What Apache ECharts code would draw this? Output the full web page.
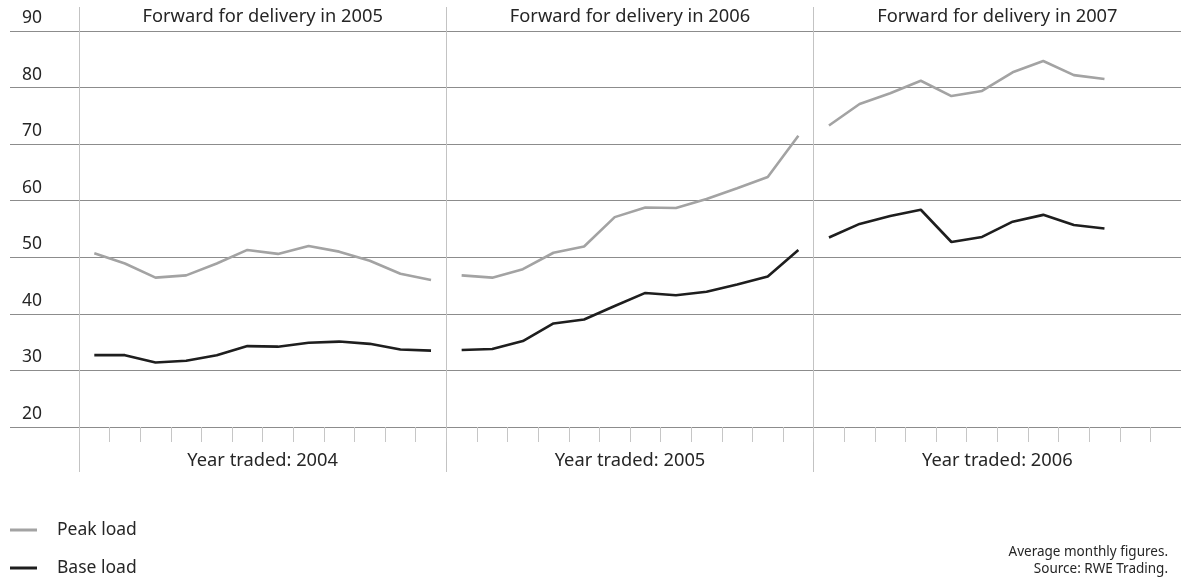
<!DOCTYPE html>
<html>
<head>
<meta charset="utf-8">
<style>
html,body{margin:0;padding:0;background:#fff;}
#chart{width:1181px;height:579px;}
</style>
<script src="https://cdn.jsdelivr.net/npm/echarts@6/dist/echarts.min.js"></script>
</head>
<body>
<div id="chart"></div>
<script>
const months = ['Jan','Feb','Mar','Apr','May','Jun','Jul','Aug','Sep','Oct','Nov','Dec'];
const tradedYears = ['2004','2005','2006'];
const deliveryYears = ['2005','2006','2007'];
const yTicks = [20, 30, 40, 50, 60, 70, 80, 90];

const peak2004 = [50.7, 48.9, 46.4, 46.8, 48.9, 51.3, 50.6, 52.0, 51.0, 49.4, 47.1, 46.0];
const base2004 = [32.7, 32.7, 31.4, 31.7, 32.7, 34.3, 34.2, 34.9, 35.1, 34.7, 33.7, 33.5];
const peak2005 = [46.8, 46.4, 47.9, 50.8, 51.9, 57.1, 58.8, 58.7, 60.3, 62.2, 64.2, 71.5];
const base2005 = [33.6, 33.8, 35.2, 38.3, 39.0, 41.4, 43.7, 43.3, 43.9, 45.2, 46.6, 51.3];
const peak2006 = [73.3, 77.1, 79.0, 81.2, 78.5, 79.4, 82.7, 84.7, 82.2, 81.5];
const base2006 = [53.5, 55.9, 57.3, 58.4, 52.7, 53.6, 56.3, 57.5, 55.7, 55.1];

const FONT = '"Noto Sans", "Open Sans", sans-serif';
const FS = 17.5;
const FS_CAT = 18.3;
const TXT = '#262626';
const PEAK_COLOR = '#a3a3a3';
const BASE_COLOR = '#1e1e1e';

// 36 monthly categories across the three traded years
const categories = [];
tradedYears.forEach(y => months.forEach(m => categories.push(m + ' ' + y)));

function padded(values, panelIndex) {
  const arr = new Array(36).fill(null);
  values.forEach((v, i) => { arr[panelIndex * 12 + i] = v; });
  return arr;
}

const peakSets = [peak2004, peak2005, peak2006];
const baseSets = [base2004, base2005, base2006];

const series = [];
peakSets.forEach((vals, p) => series.push({
  name: 'Peak load', type: 'line', xAxisIndex: 1, yAxisIndex: 1,
  data: padded(vals, p), showSymbol: false, connectNulls: false,
  lineStyle: { color: PEAK_COLOR, width: 2.6 }, itemStyle: { color: PEAK_COLOR },
  emphasis: { disabled: true }, silent: true, animation: false
}));
baseSets.forEach((vals, p) => series.push({
  name: 'Base load', type: 'line', xAxisIndex: 1, yAxisIndex: 1,
  data: padded(vals, p), showSymbol: false, connectNulls: false,
  lineStyle: { color: BASE_COLOR, width: 2.6 }, itemStyle: { color: BASE_COLOR },
  emphasis: { disabled: true }, silent: true, animation: false
}));

const chart = echarts.init(document.getElementById('chart'), null, { renderer: 'canvas' });
chart.setOption({
  animation: false,
  backgroundColor: '#ffffff',
  textStyle: { fontFamily: FONT, color: TXT },
  title: {
    text: 'Average monthly figures.\nSource: RWE Trading.',
    left: 1168, top: 544, padding: 0, textAlign: 'right',
    textStyle: { fontFamily: FONT, fontSize: 13.5, fontWeight: 'normal', color: TXT, lineHeight: 17 }
  },
  legend: {
    orient: 'vertical', left: 10, top: 520, padding: 0,
    itemWidth: 27, itemHeight: 3, itemGap: 18, icon: 'rect',
    selectedMode: false,
    data: ['Peak load', 'Base load'],
    textStyle: { fontFamily: FONT, fontSize: FS, color: TXT, lineHeight: 20, padding: [0, 0, 0, 15] }
  },
  grid: [
    { left: 10, right: 0, top: 31, height: 396, containLabel: false },
    { left: 79, width: 1104, top: 31, height: 396, containLabel: false },
    { left: 79, width: 1104, top: 7, height: 465, containLabel: false }
  ],
  xAxis: [
    { gridIndex: 0, type: 'value', show: false },
    {
      gridIndex: 1, type: 'category', data: categories, boundaryGap: true,
      axisLine: { show: false },
      axisTick: { show: true, interval: 0, length: 15, lineStyle: { color: '#c6c6c6', width: 1 } },
      axisLabel: { show: false }, splitLine: { show: false }
    },
    {
      gridIndex: 2, type: 'category', data: deliveryYears.map(y => 'Forward for delivery in ' + y),
      position: 'top', boundaryGap: true,
      axisLine: { show: false }, axisTick: { show: false },
      axisLabel: { inside: true, margin: 1, interval: 0, fontFamily: FONT, fontSize: FS_CAT, color: TXT },
      splitLine: { show: true, interval: 0, lineStyle: { color: '#c3c3c3', width: 1 } }
    },
    {
      gridIndex: 2, type: 'category', data: tradedYears.map(y => 'Year traded: ' + y),
      position: 'bottom', boundaryGap: true,
      axisLine: { show: false }, axisTick: { show: false },
      axisLabel: { inside: true, margin: 2, interval: 0, fontFamily: FONT, fontSize: FS_CAT, color: TXT },
      splitLine: { show: false }
    }
  ],
  yAxis: [
    {
      gridIndex: 0, type: 'value', min: yTicks[0], max: yTicks[yTicks.length - 1], interval: 10,
      axisLine: { show: false }, axisTick: { show: false },
      axisLabel: { inside: true, margin: 12, verticalAlign: 'bottom', padding: [0, 0, 4, 0],
                   fontFamily: FONT, fontSize: FS, color: TXT },
      splitLine: { show: true, lineStyle: { color: '#8c8c8c', width: 1.2 } }
    },
    {
      gridIndex: 1, type: 'value', min: yTicks[0], max: yTicks[yTicks.length - 1], interval: 10,
      show: false, splitLine: { show: false }
    },
    { gridIndex: 2, type: 'value', show: false, splitLine: { show: false } }
  ],
  series: series
});
</script>
</body>
</html>
